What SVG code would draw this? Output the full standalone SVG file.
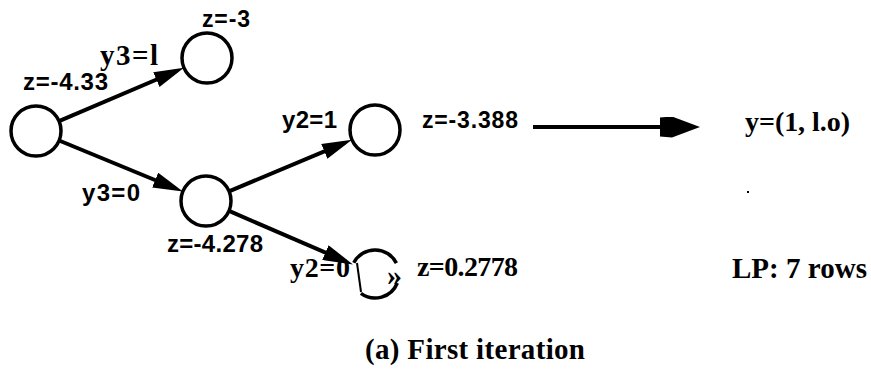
<svg xmlns="http://www.w3.org/2000/svg" width="871" height="369" viewBox="0 0 871 369">
<style>
.node{fill:none;stroke:#000;stroke-width:3.5}
.edge{fill:none;stroke:#000;stroke-width:4}
.sans{font-family:"Liberation Sans",Arial,sans-serif;font-weight:bold;fill:#000}
.serif{font-family:"Liberation Serif","Times New Roman",serif;font-weight:bold;fill:#000}
</style>
<defs>
<marker id="ah" markerUnits="userSpaceOnUse" markerWidth="30" markerHeight="16" refX="22" refY="8" orient="auto" viewBox="0 0 30 16">
<path d="M0,0 L30,8 L0,16 z" fill="#000"/>
</marker>
<marker id="ahBig" markerUnits="userSpaceOnUse" markerWidth="40" markerHeight="21" refX="34" refY="10.5" orient="auto" viewBox="0 0 40 21">
<path d="M0,1 L12,0 L40,10.5 L12,21 L0,20 z" fill="#000"/>
</marker>
</defs>
<rect width="871" height="369" fill="#fff"/>
<g id="connectors">
<line class="edge" x1="59" y1="121.2" x2="176.6" y2="71" marker-end="url(#ah)"/>
<line class="edge" x1="59.1" y1="140.5" x2="175.5" y2="188.5" marker-end="url(#ah)"/>
<line class="edge" x1="229" y1="191.3" x2="344.6" y2="142.8" marker-end="url(#ah)"/>
<line class="edge" x1="229" y1="210.9" x2="345.6" y2="261.3" marker-end="url(#ah)"/>
<line class="edge" x1="533" y1="127" x2="694" y2="127" marker-end="url(#ahBig)"/>
</g>
<g id="node-root">
<circle class="node" cx="36" cy="131" r="25"/>
<text class="sans" x="23" y="90" font-size="24" textLength="85">z=-4.33</text>
</g>
<g id="node-top">
<circle class="node" cx="207" cy="58" r="25"/>
<text class="sans" x="202" y="27" font-size="23" textLength="48">z=-3</text>
</g>
<g id="node-mid">
<circle class="node" cx="206" cy="201" r="25"/>
<text class="sans" x="167" y="252" font-size="24" textLength="96">z=-4.278</text>
</g>
<g id="node-right">
<circle class="node" cx="375" cy="130" r="25"/>
<text class="sans" x="422" y="128" font-size="23" textLength="96">z=-3.388</text>
</g>
<g id="node-bottom">
<path class="node" d="M353.8,262.7 A24,24 0 0 1 396.4,263.1"/>
<path class="node" d="M397.3,283 A24,24 0 0 1 360.9,293.4"/>
<line x1="357" y1="263" x2="361" y2="292" stroke="#000" stroke-width="2"/>
<text class="serif" x="387" y="285" font-size="30">»</text>
<text class="serif" x="417" y="276" font-size="28" textLength="101">z=0.2778</text>
</g>
<g id="edge-labels">
<text class="serif" x="100" y="65" font-size="29" textLength="58">y3=l</text>
<text class="sans" x="82" y="201" font-size="24" textLength="58">y3=0</text>
<text class="sans" x="282" y="128" font-size="24" textLength="55">y2=1</text>
<text class="serif" x="290" y="277" font-size="28" textLength="60">y2=0</text>
</g>
<g id="result">
<text class="serif" x="745" y="131" font-size="28" textLength="105">y=(1, l.o)</text>
<rect x="747" y="191" width="2" height="2" fill="#000"/>
<text class="serif" x="732" y="278" font-size="29" textLength="135">LP: 7 rows</text>
</g>
<text class="serif" x="365" y="359" font-size="29" textLength="220">(a) First iteration</text>
</svg>
